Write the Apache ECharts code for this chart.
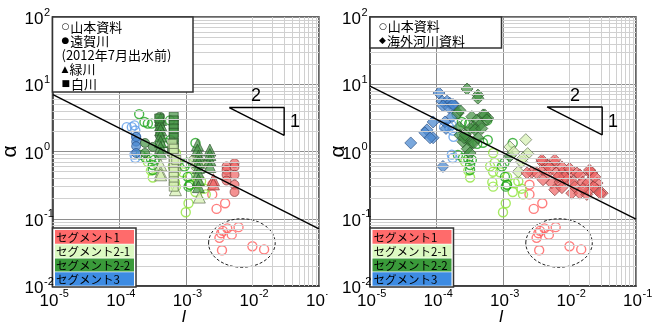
<!DOCTYPE html>
<html><head><meta charset="utf-8">
<script src="https://cdn.jsdelivr.net/npm/echarts@6/dist/echarts.min.js"></script>
<style>html,body{margin:0;padding:0;background:#fff}#c{width:657px;height:327px}</style>
</head><body><div id="c"></div>
<script>
// ---- axis ranges / ticks ----
const xTicks = [1e-5, 1e-4, 1e-3, 1e-2, 1e-1];
const yTicks = [1e-2, 1e-1, 1, 10, 100];
const segNames = ['セグメント1', 'セグメント2-1', 'セグメント2-2', 'セグメント3'];

// ---- 山本資料 (open circles, both panels) ----
const yamamoto_s1 = [[2.5e-3,0.32],[2.5e-3,0.23],[2.9e-3,0.14],[3.9e-3,0.17],[3.4e-3,0.061],[3.6e-3,0.066],[4.2e-3,0.072],[3.2e-3,0.052],[4.9e-3,0.058],[6.2e-3,0.075],[3.5e-3,0.034],[1.0e-2,0.039],[1.5e-2,0.035]];
const yamamoto_s21 = [[2.7e-4,0.70],[3.0e-4,0.52],[3.2e-4,0.41],[6.4e-4,0.60],[7.1e-4,0.95],[7.5e-4,0.68],[7.1e-4,0.50],[6.9e-4,0.35],[7.1e-4,0.30],[9.0e-4,0.49],[1.15e-3,0.42],[1.15e-3,0.32],[1.5e-3,0.34],[1.7e-3,0.36],[1.9e-3,0.28],[1.4e-3,0.25],[2.0e-3,0.23],[1.1e-3,0.17],[1.0e-3,0.125]];
const yamamoto_s22 = [[2.0e-4,3.6],[2.4e-4,2.75],[2.7e-4,2.6],[3.1e-4,2.6],[5.8e-4,2.9],[5.9e-4,1.48],[5.0e-4,1.35],[4.1e-4,1.3],[2.5e-4,0.80],[3.0e-4,0.78],[3.4e-4,0.75],[3.2e-4,0.53],[3.2e-4,0.63],[2.1e-4,0.89],[9.6e-4,0.60],[1.07e-3,0.42],[1.15e-3,0.32],[1.4e-3,1.34],[1.05e-3,0.68],[1.1e-3,0.30]];
const yamamoto_s3 = [[1.3e-4,2.3],[1.55e-4,2.3],[1.75e-4,2.05],[1.7e-4,2.45],[1.8e-4,1.65],[1.7e-4,0.9],[1.75e-4,0.8]];

// ---- 遠賀川 (filled circles, left) ----
const onga_s1 = [[4.1e-3,0.60],[4.1e-3,0.53],[4.1e-3,0.45],[4.1e-3,0.37],[5.4e-3,0.67],[5.4e-3,0.59],[5.4e-3,0.45],[5.4e-3,0.32],[5.4e-3,0.25]];
const onga_s21 = [[1.3e-3,0.75],[1.5e-3,0.80],[1.7e-3,0.70],[1.9e-3,0.65],[1.4e-3,0.60]];
const onga_s22 = [[2.45e-4,1.34],[2.45e-4,0.95],[3.2e-4,1.17],[4.1e-4,3.3],[4.1e-4,2.8],[4.1e-4,2.4],[4.1e-4,2.0],[4.1e-4,1.7]];
const onga_s3 = [[1.8e-4,1.65],[1.8e-4,1.4],[1.8e-4,1.2],[1.8e-4,0.95]];

// ---- 緑川 (triangles, left) ----
const midori_s1 = [[2.6e-3,0.38],[2.6e-3,0.33]];
const midori_s21 = [[4.2e-4,0.63],[4.2e-4,0.49],[4.2e-4,0.45],[7.0e-4,0.63],[7.0e-4,0.27],[1.6e-3,0.21]];
const midori_s22 = [[4.2e-4,3.0],[4.2e-4,2.5],[4.2e-4,2.1],[4.2e-4,1.7],[4.2e-4,1.4],[4.2e-4,1.15],[4.2e-4,0.95],[1.5e-3,1.25],[1.5e-3,1.05],[1.55e-3,0.85],[1.55e-3,0.7],[1.55e-3,0.58],[1.55e-3,0.48],[1.55e-3,0.38],[1.55e-3,0.3],[2.3e-3,1.05],[2.3e-3,0.9],[2.3e-3,0.75],[2.3e-3,0.6]];

// ---- 白川 (squares, left) ----
const shirakawa_s21 = [[6.3e-4,1.3],[6.6e-4,1.1],[6.6e-4,0.95],[6.6e-4,0.8],[6.6e-4,0.68],[6.6e-4,0.58],[6.6e-4,0.5],[6.6e-4,0.42],[6.6e-4,0.36],[6.6e-4,0.3],[7.2e-4,0.75]];
const shirakawa_s22 = [[4.0e-4,3.1],[6.6e-4,3.3],[6.6e-4,2.9],[6.6e-4,2.5],[6.6e-4,2.2],[6.6e-4,1.9],[6.6e-4,1.6],[6.6e-4,1.35],[6.6e-4,1.15],[6.2e-4,1.0]];

// ---- 海外河川資料 (diamonds, right) ----
const kaigai_s1 = [[3.85e-3,0.70],[4.6e-3,0.63],[6.0e-3,0.67],[4.0e-3,0.53],[2.7e-3,0.49],[3.2e-3,0.48],[4.7e-3,0.48],[6.4e-3,0.49],[7.9e-3,0.49],[1.0e-2,0.48],[1.29e-2,0.48],[2.0e-2,0.49],[1.43e-2,0.45],[4.0e-3,0.38],[5.4e-3,0.34],[7.2e-3,0.35],[9.4e-3,0.38],[1.12e-2,0.35],[1.58e-2,0.35],[1.89e-2,0.34],[2.6e-2,0.34],[6.0e-3,0.27],[7.7e-3,0.29],[1.08e-2,0.24],[1.43e-2,0.24],[1.82e-2,0.23],[2.0e-2,0.27],[2.6e-2,0.27],[3.1e-2,0.24],[3.85e-3,0.75],[6.0e-3,0.75],[7.7e-3,0.59],[2.3e-3,0.48],[2.17e-2,0.48],[2.9e-2,0.24],[5.0e-3,0.58],[8.5e-3,0.42],[1.2e-2,0.30],[1.6e-2,0.28],[2.3e-2,0.30],[6.8e-3,0.42],[1.0e-2,0.56],[2.4e-2,0.42],[2.0e-2,0.53]];
const kaigai_s21 = [[1.27e-3,1.17],[2.2e-3,1.5],[2.35e-3,0.93],[1.9e-3,0.7],[2.0e-3,0.8],[1.7e-3,0.5],[1.45e-3,0.98]];
const kaigai_s22 = [[2.88e-4,8.5],[4.2e-4,6.9],[4.2e-4,6.2],[2.1e-4,3.7],[2.25e-4,4.1],[3.4e-4,3.3],[4.05e-4,2.95],[5.0e-4,3.5],[5.9e-4,3.15],[5.3e-4,3.5],[5.7e-4,2.95],[4.5e-4,2.5],[3.65e-4,2.3],[3.2e-4,2.2],[3.8e-4,2.1],[4.8e-4,2.2],[2.2e-4,2.3],[2.25e-4,1.75],[2.5e-4,1.4],[3.0e-4,1.5],[3.4e-4,1.35],[2.9e-4,1.1],[3.2e-4,0.95],[3.65e-4,1.35],[4.2e-4,1.6],[2.6e-4,1.6],[1.28e-3,0.86],[2.7e-4,1.77]];
const kaigai_s3 = [[1.09e-4,7.4],[1.21e-4,5.6],[1.44e-4,5.6],[1.59e-4,5.2],[1.9e-4,4.8],[1.25e-4,4.8],[1.54e-4,4.5],[1.77e-4,5.0],[8.9e-5,2.75],[1.34e-4,2.75],[1.71e-4,3.3],[1.39e-4,2.2],[7.2e-5,2.1],[6.7e-5,1.9],[8.9e-5,1.6],[8.0e-5,1.6],[4.1e-5,1.34],[1.25e-4,0.6]];

// ---- reference lines / annotations ----
const trendLeft = [[1e-5, 7.1], [1e-1, 0.071]];
const trendRight = [[1e-5, 9.4], [1e-1, 0.099]];
const slopeLeft = [[4.5e-3, 4.5], [3.0e-2, 4.5], [3.0e-2, 1.74], [4.5e-3, 4.5]];
const slopeRight = [[4.6e-3, 4.6], [3.1e-2, 4.6], [3.1e-2, 1.77], [4.6e-3, 4.6]];
const ellipseBox = [2.2e-3, 0.019, 2.2e-2, 0.1];

// ---- styles ----
const FILL = {s1: 'rgba(240,100,100,0.88)', s21: 'rgba(214,240,178,0.9)', s22: 'rgba(66,145,66,0.88)', s3: 'rgba(70,134,208,0.9)'};
const EDGE = {s1: '#7a3434', s21: '#56664a', s22: '#264c26', s3: '#274a7c'};
const OPEN = {s1: '#ff5c5c', s21: '#8fe53a', s22: '#1ea51e', s3: '#5c9ce8'};
const SEGBG = ['#ff6b6b', '#dcf9c2', '#3a9a3a', '#3d8be2'];
const NUMF = 'Liberation Sans, Arial, sans-serif';
const JPF = 'Noto Sans CJK JP, sans-serif';

function sc(data, symbol, size, seg, hollow, gi) {
  return {
    type: 'scatter', xAxisIndex: gi, yAxisIndex: gi, data: data, symbol: symbol, symbolSize: size,
    z: 3, silent: true, animation: false,
    itemStyle: hollow
      ? {color: 'rgba(255,255,255,0)', borderColor: OPEN[seg], borderWidth: 1.4}
      : {color: FILL[seg], borderColor: EDGE[seg], borderWidth: 0.8}
  };
}

function minorVals(lo, hi) {
  const out = [];
  for (let e = lo; e < hi; e++) for (let k = 2; k <= 9; k++) out.push(k * Math.pow(10, e));
  return out;
}
function gridSeries(gi) {
  const d = [];
  minorVals(-5, -1).forEach(v => d.push({xAxis: v}));
  minorVals(-2, 2).forEach(v => d.push({yAxis: v}));
  return {
    type: 'scatter', xAxisIndex: gi, yAxisIndex: gi, data: [], z: 1, silent: true, animation: false,
    markLine: {silent: true, symbol: 'none', animation: false, label: {show: false},
      lineStyle: {type: 'solid', color: '#d0d0d0', width: 1}, emphasis: {disabled: true}, data: d}
  };
}

function xAx(gi) {
  return {
    type: 'log', logBase: 10, gridIndex: gi, min: xTicks[0], max: xTicks[xTicks.length - 1],
    axisLine: {show: true, onZero: false, lineStyle: {color: '#333', width: 1.5}},
    axisTick: {show: false},
    splitLine: {show: true, lineStyle: {color: '#8e8e8e', width: 1}},
    axisLabel: {show: false}
  };
}
function yAx(gi) {
  return {
    type: 'log', logBase: 10, gridIndex: gi, min: yTicks[0], max: yTicks[yTicks.length - 1],
    axisLine: {show: true, onZero: false, lineStyle: {color: '#333', width: 1.5}},
    axisTick: {show: false},
    splitLine: {show: true, lineStyle: {color: '#8e8e8e', width: 1}},
    axisLabel: {show: false}
  };
}

function lineS(data, gi, z) {
  return {type: 'line', xAxisIndex: gi, yAxisIndex: gi, data: data, symbol: 'none', silent: true,
    animation: false, z: z, lineStyle: {color: '#000', width: 1.4}};
}
function ellipseS(gi) {
  return {
    type: 'custom', xAxisIndex: gi, yAxisIndex: gi, data: [ellipseBox], encode: {x: [0, 2], y: [1, 3]},
    silent: true, animation: false, z: 2,
    renderItem: function (p, api) {
      const a = api.coord([api.value(0), api.value(3)]);
      const b = api.coord([api.value(2), api.value(1)]);
      return {type: 'ellipse', shape: {cx: (a[0] + b[0]) / 2, cy: (a[1] + b[1]) / 2,
        rx: Math.abs(b[0] - a[0]) / 2, ry: Math.abs(b[1] - a[1]) / 2},
        style: {fill: 'none', stroke: '#222', lineWidth: 1, lineDash: [3, 2]}};
    }
  };
}

function segLegend(x0) {
  const els = [{type: 'rect', shape: {x: x0, y: 228, width: 83.5, height: 59},
    style: {fill: '#fff', stroke: '#333', lineWidth: 1.5}}];
  const tops = [230, 244.5, 258.5, 272.2];
  const hs = [13.8, 13.3, 13, 13.5];
  segNames.forEach((n, i) => {
    els.push({type: 'rect', shape: {x: x0 + 2.5, y: tops[i], width: 79, height: hs[i]}, style: {fill: SEGBG[i]}});
    els.push({type: 'text', x: x0 + 3.5, y: tops[i] + hs[i] / 2 + 0.5,
      style: {text: n, font: '11.5px ' + JPF, fill: '#000', verticalAlign: 'middle'}});
  });
  return els;
}

const chart = echarts.init(document.getElementById('c'), null, {renderer: 'canvas'});
const L = 0, R = 1;
const series = [
  gridSeries(L), gridSeries(R),
  ellipseS(L), ellipseS(R),
  // left
  sc(yamamoto_s1, 'circle', 9, 's1', true, L), sc(yamamoto_s21, 'circle', 9, 's21', true, L),
  sc(yamamoto_s22, 'circle', 9, 's22', true, L), sc(yamamoto_s3, 'circle', 9, 's3', true, L),
  sc(onga_s3, 'circle', 9, 's3', false, L), sc(onga_s22, 'circle', 9, 's22', false, L),
  sc(onga_s21, 'circle', 9, 's21', false, L), sc(onga_s1, 'circle', 9, 's1', false, L),
  sc(midori_s22, 'triangle', 12, 's22', false, L), sc(midori_s21, 'triangle', 12, 's21', false, L),
  sc(midori_s1, 'triangle', 12, 's1', false, L),
  sc(shirakawa_s22, 'rect', 9, 's22', false, L), sc(shirakawa_s21, 'rect', 9, 's21', false, L),
  lineS(trendLeft, L, 5), lineS(slopeLeft, L, 5),
  // right
  sc(yamamoto_s1, 'circle', 9, 's1', true, R), sc(yamamoto_s21, 'circle', 9, 's21', true, R),
  sc(yamamoto_s22, 'circle', 9, 's22', true, R), sc(yamamoto_s3, 'circle', 9, 's3', true, R),
  sc(kaigai_s3, 'diamond', 12, 's3', false, R), sc(kaigai_s22, 'diamond', 12, 's22', false, R),
  sc(kaigai_s21, 'diamond', 12, 's21', false, R), sc(kaigai_s1, 'diamond', 12, 's1', false, R),
  lineS(trendRight, R, 5), lineS(slopeRight, R, 5)
];

chart.setOption({
  backgroundColor: '#fff',
  animation: false,
  grid: [
    {left: 52.5, top: 17, width: 266.5, height: 269, containLabel: false, outerBoundsMode: 'none',
     show: true, borderColor: '#333', borderWidth: 1.5, backgroundColor: 'transparent'},
    {left: 370, top: 17, width: 266, height: 269, containLabel: false, outerBoundsMode: 'none',
     show: true, borderColor: '#333', borderWidth: 1.5, backgroundColor: 'transparent'}
  ],
  xAxis: [xAx(0), xAx(1)],
  yAxis: [yAx(0), yAx(1)],
  series: series
});

// tick labels "10" with superscript exponent and axis titles, placed through the axes' own scales
function axisTexts(gi, alphaX) {
  const els = [];
  const txt = (x, y, t, size, align, extra) => Object.assign({type: 'text', x: x, y: y, z: 110, silent: true,
    style: Object.assign({text: t, font: size + 'px ' + NUMF, fill: '#000', align: align, verticalAlign: 'middle'}, extra || {})});
  xTicks.forEach(v => {
    const p = chart.convertToPixel({gridIndex: gi}, [v, yTicks[0]]);
    const e = String(Math.round(Math.log10(v)));
    els.push(txt(p[0] + 6, p[1] + 15.5, '10', 17, 'right'));
    els.push(txt(p[0] + 6.5, p[1] + 8, e, 11, 'left'));
  });
  yTicks.forEach(v => {
    const p = chart.convertToPixel({gridIndex: gi}, [xTicks[0], v]);
    const e = String(Math.round(Math.log10(v)));
    els.push(txt(p[0] - 9, p[1] + 2.5, '10', 17, 'right'));
    els.push(txt(p[0] - 8.5, p[1] - 4.5, e, 11, 'left'));
  });
  const a = chart.convertToPixel({gridIndex: gi}, [xTicks[0], yTicks[0]]);
  const b = chart.convertToPixel({gridIndex: gi}, [xTicks[xTicks.length - 1], yTicks[yTicks.length - 1]]);
  // x title "I"
  els.push({type: 'text', x: (a[0] + b[0]) / 2 - 2, y: a[1] + 31, z: 110, silent: true,
    style: {text: 'I', font: 'italic 17px ' + NUMF, fill: '#000', align: 'center', verticalAlign: 'middle'}});
  // y title "α"
  els.push({type: 'text', x: alphaX, y: (a[1] + b[1]) / 2, rotation: Math.PI / 2, z: 110, silent: true,
    style: {text: 'α', font: '21px ' + NUMF, fill: '#000', align: 'center', verticalAlign: 'middle'}});
  return els;
}

const graphic = [].concat(
  axisTexts(L, 10.5), axisTexts(R, 338.5),
  [
    {type: 'rect', shape: {x: 52.5, y: 17, width: 140.5, height: 75}, style: {fill: '#fff', stroke: '#333', lineWidth: 1.5}, z: 100},
    {type: 'text', x: 61.5, y: 19.5, z: 101, style: {
      text: '{s|○}{t|山本資料}\n{s|●}{t|遠賀川}\n{t|(2012年7月出水前)}\n{s|▲}{t|緑川}\n{s|■}{t|白川}',
      rich: {s: {font: '9px DejaVu Sans', fill: '#000', lineHeight: 14.3, padding: [0, 1, 0, 0]},
             t: {font: '13px ' + JPF, fill: '#000', lineHeight: 14.3}}}},
    {type: 'rect', shape: {x: 370, y: 17, width: 131.5, height: 31}, style: {fill: '#fff', stroke: '#333', lineWidth: 1.5}, z: 100},
    {type: 'text', x: 379, y: 19, z: 101, style: {
      text: '{s|○}{t|山本資料}\n{s|◆}{t|海外河川資料}',
      rich: {s: {font: '9px DejaVu Sans', fill: '#000', lineHeight: 14.5, padding: [0, 1, 0, 0]},
             t: {font: '13px ' + JPF, fill: '#000', lineHeight: 14.5}}}},
    {type: 'text', x: 256, y: 96, z: 101, style: {text: '2', font: '18px ' + NUMF, fill: '#000', align: 'center', verticalAlign: 'middle'}},
    {type: 'text', x: 295, y: 122, z: 101, style: {text: '1', font: '18px ' + NUMF, fill: '#000', align: 'center', verticalAlign: 'middle'}},
    {type: 'text', x: 575, y: 96, z: 101, style: {text: '2', font: '18px ' + NUMF, fill: '#000', align: 'center', verticalAlign: 'middle'}},
    {type: 'text', x: 613, y: 122, z: 101, style: {text: '1', font: '18px ' + NUMF, fill: '#000', align: 'center', verticalAlign: 'middle'}},
    {type: 'rect', shape: {x: 327.5, y: 287, width: 15, height: 30}, style: {fill: '#fff'}, z: 120}
  ],
  segLegend(52.5).map(e => Object.assign(e, {z: 100})),
  segLegend(370).map(e => Object.assign(e, {z: 100}))
);
chart.setOption({graphic: graphic});
</script></body></html>
